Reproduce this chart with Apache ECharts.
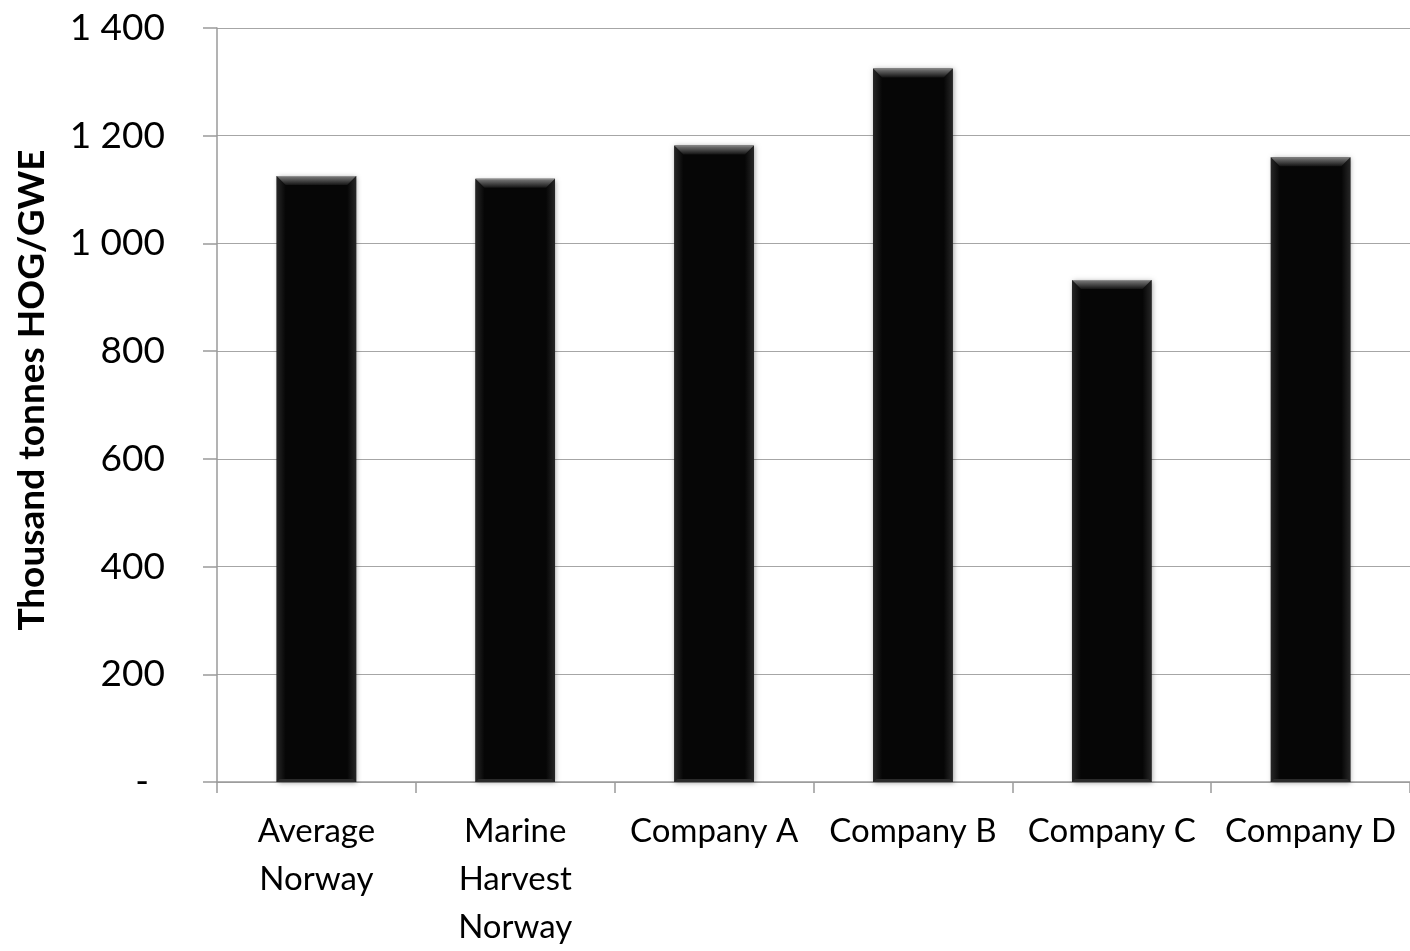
<!DOCTYPE html>
<html>
<head>
<meta charset="utf-8">
<script src="https://cdn.jsdelivr.net/npm/echarts@6/dist/echarts.min.js"></script>
<style>
  html, body { margin: 0; padding: 0; background: #ffffff; overflow: hidden; }
  #chart { width: 1410px; height: 951px; }
</style>
</head>
<body>
<div id="chart"></div>
<script>
// Production per licence, thousand tonnes HOG/GWE
const categories = ['Average\nNorway', 'Marine\nHarvest\nNorway', 'Company A', 'Company B', 'Company C', 'Company D'];
const values = [1125, 1120, 1182, 1325, 932, 1160];
const yTicks = [0, 200, 400, 600, 800, 1000, 1200, 1400];
const yTitle = 'Thousand tonnes HOG/GWE';

const FONT = 'Lato, "Open Sans", sans-serif';
const chart = echarts.init(document.getElementById('chart'), null, { renderer: 'canvas' });

function fmtTick(v) {
  if (v === 0) return '{dash|-}';
  const s = String(v);
  return s.length > 3 ? s.slice(0, s.length - 3) + ' ' + s.slice(-3) : s;
}

// Bevelled black column
function renderBar(params, api) {
  const idx = api.value(0);
  const val = api.value(1);
  const top = api.coord([idx, val]);
  const base = api.coord([idx, 0]);
  const bw = api.size([1, 0])[0] * 0.4;
  const l = top[0] - bw / 2, r = top[0] + bw / 2;
  const t = top[1], b = base[1];
  const bev = 9;
  const G = echarts.graphic.LinearGradient;
  return {
    type: 'group',
    children: [
      { type: 'rect', shape: { x: l, y: t, width: bw, height: b - t },
        style: { fill: '#060606', shadowBlur: 5, shadowColor: 'rgba(0,0,0,0.35)', shadowOffsetX: 1, shadowOffsetY: 1 } },
      // left edge
      { type: 'polygon', shape: { points: [[l, t], [l + bev, t + bev], [l + bev, b - 3], [l, b]] },
        style: { fill: new G(0, 0, 1, 0, [{ offset: 0, color: '#262626' }, { offset: 1, color: '#060606' }]) } },
      // right edge
      { type: 'polygon', shape: { points: [[r, t], [r - bev, t + bev], [r - bev, b - 3], [r, b]] },
        style: { fill: new G(1, 0, 0, 0, [{ offset: 0, color: '#262626' }, { offset: 1, color: '#060606' }]) } },
      // bottom edge
      { type: 'polygon', shape: { points: [[l, b], [r, b], [r - 3, b - 3], [l + 3, b - 3]] },
        style: { fill: '#2a2a2a' } },
      // top bevel
      { type: 'polygon', shape: { points: [[l, t], [r, t], [r - bev, t + bev], [l + bev, t + bev]] },
        style: { fill: new G(0, 0, 0, 1, [{ offset: 0, color: '#9a9a9a' }, { offset: 0.15, color: '#6e6e6e' }, { offset: 1, color: '#141414' }]) } }
    ]
  };
}

chart.setOption({
  backgroundColor: '#ffffff',
  animation: false,
  grid: { left: 217, top: 28, width: 1203, height: 761, containLabel: false },
  xAxis: {
    type: 'category',
    data: categories,
    boundaryGap: true,
    axisLine: { show: true, lineStyle: { color: '#9a9a9a', width: 1.5 } },
    axisTick: { show: true, length: 11, lineStyle: { color: '#9a9a9a', width: 1.5 } },
    axisLabel: {
      color: '#000', fontFamily: FONT, fontSize: 33, lineHeight: 48,
      margin: 25, interval: 0
    },
    splitLine: { show: false }
  },
  yAxis: {
    type: 'value',
    min: 0, max: 1400, interval: 200,
    name: yTitle,
    nameLocation: 'middle',
    nameRotate: 90,
    nameGap: 166,
    nameTextStyle: { color: '#000', fontFamily: FONT, fontSize: 37, fontWeight: 'bold', padding: [0, 0, 0, 30] },
    axisLine: { show: true, lineStyle: { color: '#9a9a9a', width: 1.5 } },
    axisTick: { show: true, length: 14, lineStyle: { color: '#9a9a9a', width: 1.5 } },
    axisLabel: {
      color: '#000', fontFamily: FONT, fontSize: 37, margin: 52,
      formatter: fmtTick,
      rich: { dash: { fontFamily: FONT, fontSize: 37, color: '#000', padding: [0, 16, 0, 0] } }
    },
    splitLine: { show: true, lineStyle: { color: '#a6a6a6', width: 1.2 } }
  },
  series: [{
    type: 'custom',
    renderItem: renderBar,
    data: values.map((v, i) => [i, v]),
    encode: { x: 0, y: 1 },
    clip: false
  }]
});
</script>
</body>
</html>
